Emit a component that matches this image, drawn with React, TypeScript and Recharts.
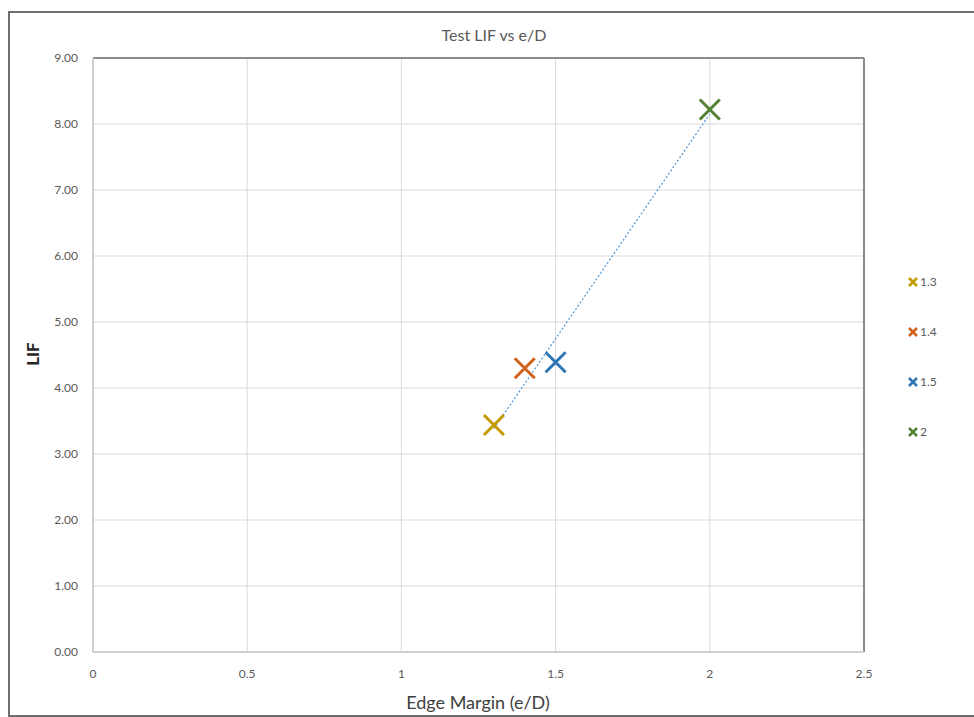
import React from 'react';
import { ScatterChart, Scatter, XAxis, YAxis, CartesianGrid, ReferenceLine, Customized } from 'recharts';

const seriesNames = ['1.3', '1.4', '1.5', '2'];
const seriesX = [1.3, 1.4, 1.5, 2];
const seriesY = [3.44, 4.3, 4.39, 8.22];
const seriesColors = ['#C49A00', '#D0621C', '#2E75B6', '#548235'];
const xTicks = [0, 0.5, 1, 1.5, 2, 2.5];
const yTicks = [0, 1, 2, 3, 4, 5, 6, 7, 8, 9];

const W = 974;
const H = 717;
const FONT = 'Lato, "Open Sans", sans-serif';

// linear trendline (least squares) over all points
const n = seriesX.length;
const mx = seriesX.reduce((a, b) => a + b, 0) / n;
const my = seriesY.reduce((a, b) => a + b, 0) / n;
let sxx = 0;
let sxy = 0;
for (let i = 0; i < n; i++) {
  sxx += (seriesX[i] - mx) * (seriesX[i] - mx);
  sxy += (seriesX[i] - mx) * (seriesY[i] - my);
}
const slope = sxy / sxx;
const intercept = my - slope * mx;
const xMin = Math.min(...seriesX);
const xMax = Math.max(...seriesX);
const trendSegment = [
  { x: xMin, y: intercept + slope * xMin },
  { x: xMax, y: intercept + slope * xMax },
];

const makeX = (color: string, half: number, sw: number) => (props: any) => {
  const { cx, cy } = props;
  if (cx == null || cy == null) return <g />;
  return (
    <path
      d={`M${cx - half},${cy - half}L${cx + half},${cy + half}M${cx - half},${cy + half}L${cx + half},${cy - half}`}
      stroke={color}
      strokeWidth={sw}
      fill="none"
    />
  );
};

const Texts = () => (
  <g fontFamily={FONT}>
    <text x={494} y={41} textAnchor="middle" fontSize={16} fill="#595959">
      Test LIF vs e/D
    </text>
    <text x={478} y={709} textAnchor="middle" fontSize={18} fill="#404040">
      Edge Margin (e/D)
    </text>
    <text
      x={0}
      y={0}
      transform="translate(39,354) rotate(-90)"
      textAnchor="middle"
      fontSize={17}
      fontWeight="bold"
      fill="#262626"
    >
      LIF
    </text>
  </g>
);

export default function App() {
  return (
    <div style={{ position: 'absolute', left: 0, top: 0, width: W, height: H, overflow: 'hidden', background: '#fff' }}>
      <div
        style={{
          position: 'absolute',
          left: 8,
          top: 11,
          width: 966,
          height: 702,
          borderLeft: '2px solid #6e6e6e',
          borderTop: '2px solid #6e6e6e',
          borderBottom: '2px solid #6e6e6e',
        }}
      />
      <div style={{ position: 'absolute', left: 0, top: 0 }}>
        <ScatterChart width={W} height={H} margin={{ top: 58, right: 110, bottom: 35, left: 0 }}>
          <CartesianGrid stroke="#d9d9d9" strokeWidth={1} />
          <XAxis
            type="number"
            dataKey="x"
            domain={[0, 2.5]}
            ticks={xTicks}
            interval={0}
            height={30}
            axisLine={{ stroke: '#cfcfcf', strokeWidth: 2 }}
            tickLine={false}
            tickSize={6}
            tickMargin={11}
            tick={{ fill: '#595959', fontSize: 12, fontFamily: FONT }}
            tickFormatter={(v: number) => String(v)}
          />
          <YAxis
            type="number"
            dataKey="y"
            domain={[0, 9]}
            ticks={yTicks}
            interval={0}
            width={93}
            axisLine={{ stroke: '#cfcfcf', strokeWidth: 2 }}
            tickLine={false}
            tickSize={6}
            tickMargin={9}
            tick={{ fill: '#595959', fontSize: 12, fontFamily: FONT }}
            tickFormatter={(v: number) => v.toFixed(2)}
          />
          <ReferenceLine y={9} stroke="#8a8a8a" strokeWidth={2} />
          <ReferenceLine x={2.5} stroke="#8a8a8a" strokeWidth={2} />
          <ReferenceLine
            segment={trendSegment}
            stroke="#5B9BD5"
            strokeWidth={1.3}
            strokeDasharray="2 2"
          />
          {seriesNames.map((name, i) => (
            <Scatter
              key={name}
              name={name}
              data={[{ x: seriesX[i], y: seriesY[i] }]}
              shape={makeX(seriesColors[i], 10, 3)}
              isAnimationActive={false}
            />
          ))}
          <Customized component={Texts} />
        </ScatterChart>
      </div>
      <div style={{ position: 'absolute', left: 907, top: 274, fontFamily: FONT, fontSize: 12, color: '#595959' }}>
        {seriesNames.map((name, i) => (
          <div key={name} style={{ height: 50, display: 'flex', alignItems: 'flex-start' }}>
            <svg width={12} height={16} style={{ display: 'block' }}>
              <path d="M2,4L10,12M2,12L10,4" stroke={seriesColors[i]} strokeWidth={2.5} fill="none" />
            </svg>
            <span style={{ lineHeight: '16px', marginLeft: 1 }}>{name}</span>
          </div>
        ))}
      </div>
    </div>
  );
}
